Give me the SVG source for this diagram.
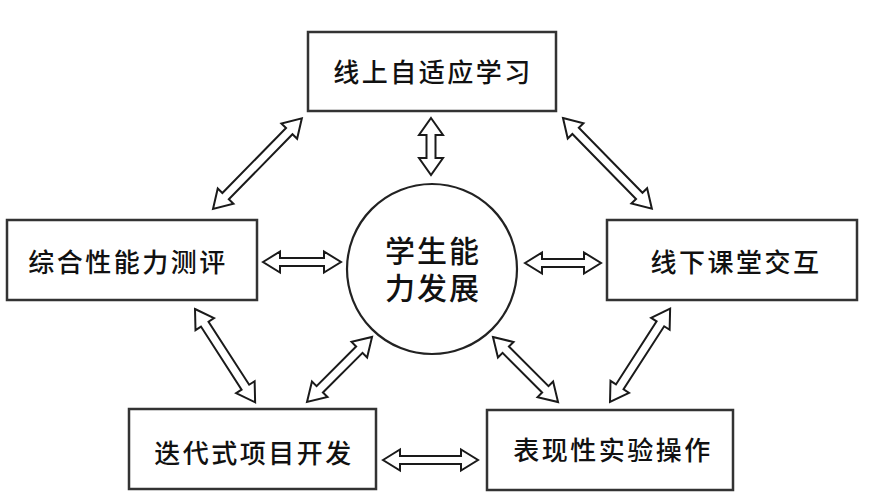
<svg xmlns="http://www.w3.org/2000/svg" width="886" height="498" viewBox="0 0 886 498">
<style>
.box{fill:#fff;stroke:#333;stroke-width:2.5}
.lbl{font-family:"Noto Sans CJK SC","Noto Sans",sans-serif;font-size:26px;font-weight:500;fill:#111;text-anchor:middle;letter-spacing:2.5px}
.ctr{font-family:"Noto Sans CJK SC","Noto Sans",sans-serif;font-size:30px;font-weight:500;fill:#111;text-anchor:middle;letter-spacing:2px}
.arr{fill:#fff;stroke:#1a1a1a;stroke-width:2;stroke-linejoin:miter}
</style>
<rect width="886" height="498" fill="#fff"/>
<g id="center">
<circle cx="432" cy="269" r="85" fill="#fff" stroke="#222" stroke-width="2.2"/>
<text class="ctr" x="433" y="262">学生能<tspan x="433" dy="37">力发展</tspan></text>
</g>
<g id="n-top"><rect class="box" x="308" y="32" width="248" height="79"/><text class="lbl" x="433" y="82">线上自适应学习</text></g>
<g id="n-left"><rect class="box" x="7" y="220" width="250" height="80"/><text class="lbl" x="128" y="272">综合性能力测评</text></g>
<g id="n-right"><rect class="box" x="607" y="220" width="250" height="80"/><text class="lbl" x="736" y="272">线下课堂交互</text></g>
<g id="n-bl"><rect class="box" x="129" y="409" width="247" height="80"/><text class="lbl" x="254" y="463">迭代式项目开发</text></g>
<g id="n-br"><rect class="box" x="487" y="410" width="246" height="80"/><text class="lbl" x="613" y="460">表现性实验操作</text></g>
<g id="connectors">
<polygon class="arr" transform="translate(431,118) rotate(90)" points="0,0 17,-12 17,-4.5 40,-4.5 40,-12 57,0 40,12 40,4.5 17,4.5 17,12"/>
<polygon class="arr" transform="translate(263,262)" points="0,0 17,-10.5 17,-4 61,-4 61,-10.5 78,0 61,10.5 61,4 17,4 17,10.5"/>
<polygon class="arr" transform="translate(525,263)" points="0,0 17,-10.5 17,-4 59,-4 59,-10.5 76,0 59,10.5 59,4 17,4 17,10.5"/>
<polygon class="arr" transform="translate(383,460)" points="0,0 17,-10.5 17,-4 78,-4 78,-10.5 95,0 78,10.5 78,4 17,4 17,10.5"/>
<polygon class="arr" transform="translate(213,209) rotate(-45.6)" points="0,0 18,-11 18,-4.5 109,-4.5 109,-11 127,0 109,11 109,4.5 18,4.5 18,11"/>
<polygon class="arr" transform="translate(563,118) rotate(45.6)" points="0,0 18,-11 18,-4.5 109,-4.5 109,-11 127,0 109,11 109,4.5 18,4.5 18,11"/>
<polygon class="arr" transform="translate(195,309) rotate(57.2)" points="0,0 18,-11 18,-4.5 93,-4.5 93,-11 111,0 93,11 93,4.5 18,4.5 18,11"/>
<polygon class="arr" transform="translate(307,402) rotate(-45)" points="0,0 18,-11 18,-4.5 74,-4.5 74,-11 92,0 74,11 74,4.5 18,4.5 18,11"/>
<polygon class="arr" transform="translate(493,337) rotate(45)" points="0,0 18,-11 18,-4.5 74,-4.5 74,-11 92,0 74,11 74,4.5 18,4.5 18,11"/>
<polygon class="arr" transform="translate(610,402) rotate(-57.2)" points="0,0 18,-11 18,-4.5 93,-4.5 93,-11 111,0 93,11 93,4.5 18,4.5 18,11"/>
</g>
</svg>
